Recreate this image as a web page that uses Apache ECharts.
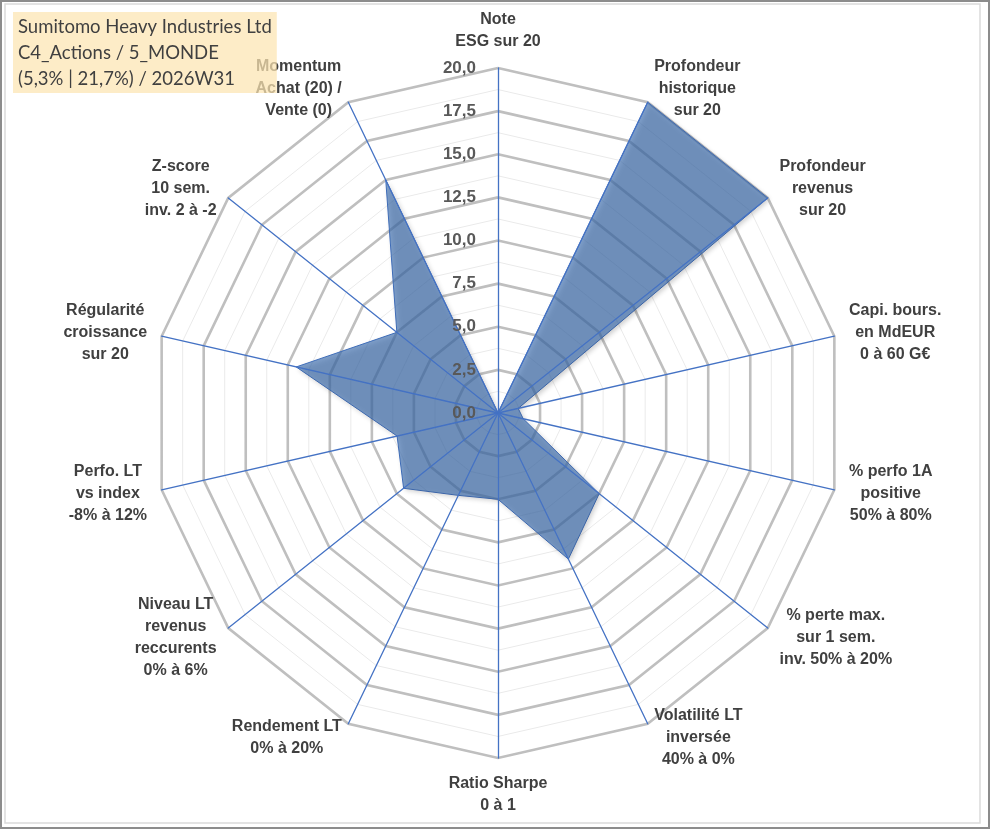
<!DOCTYPE html>
<html>
<head>
<meta charset="utf-8">
<script src="https://cdn.jsdelivr.net/npm/echarts@6/dist/echarts.min.js"></script>
<style>
html, body { margin: 0; padding: 0; background: #fff; }
#chart { width: 991px; height: 830px; }
</style>
</head>
<body>
<div id="chart"></div>
<script>
// axes, clockwise from the top
const axisNames = [
  'Note\nESG sur 20',
  'Profondeur\nhistorique\nsur 20',
  'Profondeur\nrevenus\nsur 20',
  'Capi. bours.\nen MdEUR\n0 à 60 G€',
  '% perfo 1A\npositive\n50% à 80%',
  '% perte max.\nsur 1 sem.\ninv. 50% à 20%',
  'Volatilité LT\ninversée\n40% à 0%',
  'Ratio Sharpe\n0 à 1',
  'Rendement LT\n0% à 20%',
  'Niveau LT\nrevenus\nreccurents\n0% à 6%',
  'Perfo. LT\nvs index\n-8% à 12%',
  'Régularité\ncroissance\nsur 20',
  'Z-score\n10 sem.\ninv. 2 à -2',
  'Momentum\nAchat (20) /\nVente (0)'
];
const scores = [0, 20, 20, 1.2, 1.5, 7.5, 9.4, 5.0, 5.3, 7.0, 6.0, 12.0, 7.5, 15.0];
const tickLabels = ['0,0', '2,5', '5,0', '7,5', '10,0', '12,5', '15,0', '17,5', '20,0'];
const maxScore = 20;

const titleLines = [
  'Sumitomo Heavy Industries Ltd',
  'C4_Actions / 5_MONDE',
  '(5,3% | 21,7%) / 2026W31'
];

// echarts lays radar axes counter-clockwise, so reverse after the first one
const order = axisNames.map((_, i) => (axisNames.length - i) % axisNames.length);
const values = order.map(i => scores[i]);
const makeIndicators = (withLabel) => order.map((i, k) => {
  const ind = { name: axisNames[i], min: 0, max: maxScore };
  if (withLabel && k === 0) ind.axisLabel = { show: true };
  return ind;
});

const base = {
  center: [498, 413],
  radius: 345,
  startAngle: 90,
  shape: 'polygon',
  splitArea: { show: false },
  axisTick: { show: false },
  axisLabel: { show: false },
  axisName: { show: false }
};

const txt = '#404040';

const option = {
  animation: false,
  title: {
    text: titleLines.join('\n'),
    left: 13,
    top: 12,
    padding: [2, 5, 1, 5],
    backgroundColor: 'rgba(252,228,178,0.72)',
    textStyle: {
      fontFamily: 'Lato',
      fontSize: 18.5,
      fontWeight: 'normal',
      color: txt,
      lineHeight: 26
    }
  },
  radar: [
    // minor rings
    Object.assign({}, base, {
      indicator: makeIndicators(false),
      splitNumber: 16,
      axisLine: { show: false },
      splitLine: { lineStyle: { color: '#EAEAEA', width: 1 } }
    }),
    // major rings
    Object.assign({}, base, {
      indicator: makeIndicators(false),
      splitNumber: 8,
      axisLine: { show: false },
      splitLine: { lineStyle: { color: '#BFBFBF', width: 2.6 } }
    }),
    // spokes, names and tick labels on top of the fill
    Object.assign({}, base, {
      z: 3,
      indicator: makeIndicators(true),
      splitNumber: 8,
      splitLine: { show: false },
      axisLine: { lineStyle: { color: '#4472C4', width: 1.3 } },
      axisLabel: {
        show: false,
        margin: 22,
        color: '#595959',
        fontFamily: 'Liberation Sans',
        fontWeight: 'bold',
        fontSize: 17,
        formatter: v => tickLabels[Math.round(v / (maxScore / 8))]
      },
      axisName: {
        show: true,
        formatter: name => name.split('\n').map(s => '{c|' + s + '}').join('\n'),
        rich: {
          c: {
            align: 'center',
            fontFamily: 'Liberation Sans',
            fontWeight: 'bold',
            fontSize: 16,
            lineHeight: 22,
            color: txt
          }
        }
      },
      nameGap: 15
    })
  ],
  graphic: [
    { type: 'rect', shape: { x: 1, y: 1, width: 988, height: 827 },
      style: { fill: null, stroke: '#8C8C8C', lineWidth: 2 } },
    { type: 'rect', shape: { x: 5, y: 4, width: 975, height: 819 },
      style: { fill: null, stroke: '#DADADA', lineWidth: 1.5 } }
  ],
  series: [{
    type: 'radar',
    radarIndex: 1,
    symbol: 'none',
    lineStyle: { color: '#4472C4', width: 1 },
    areaStyle: {
      color: 'rgba(60,110,175,0.66)',
      opacity: 1,
      shadowBlur: 5,
      shadowColor: 'rgba(0,0,0,0.3)',
      shadowOffsetX: 2,
      shadowOffsetY: 2
    },
    data: [{ value: values, name: 'Score' }]
  }]
};

echarts.init(document.getElementById('chart')).setOption(option);
</script>
</body>
</html>
